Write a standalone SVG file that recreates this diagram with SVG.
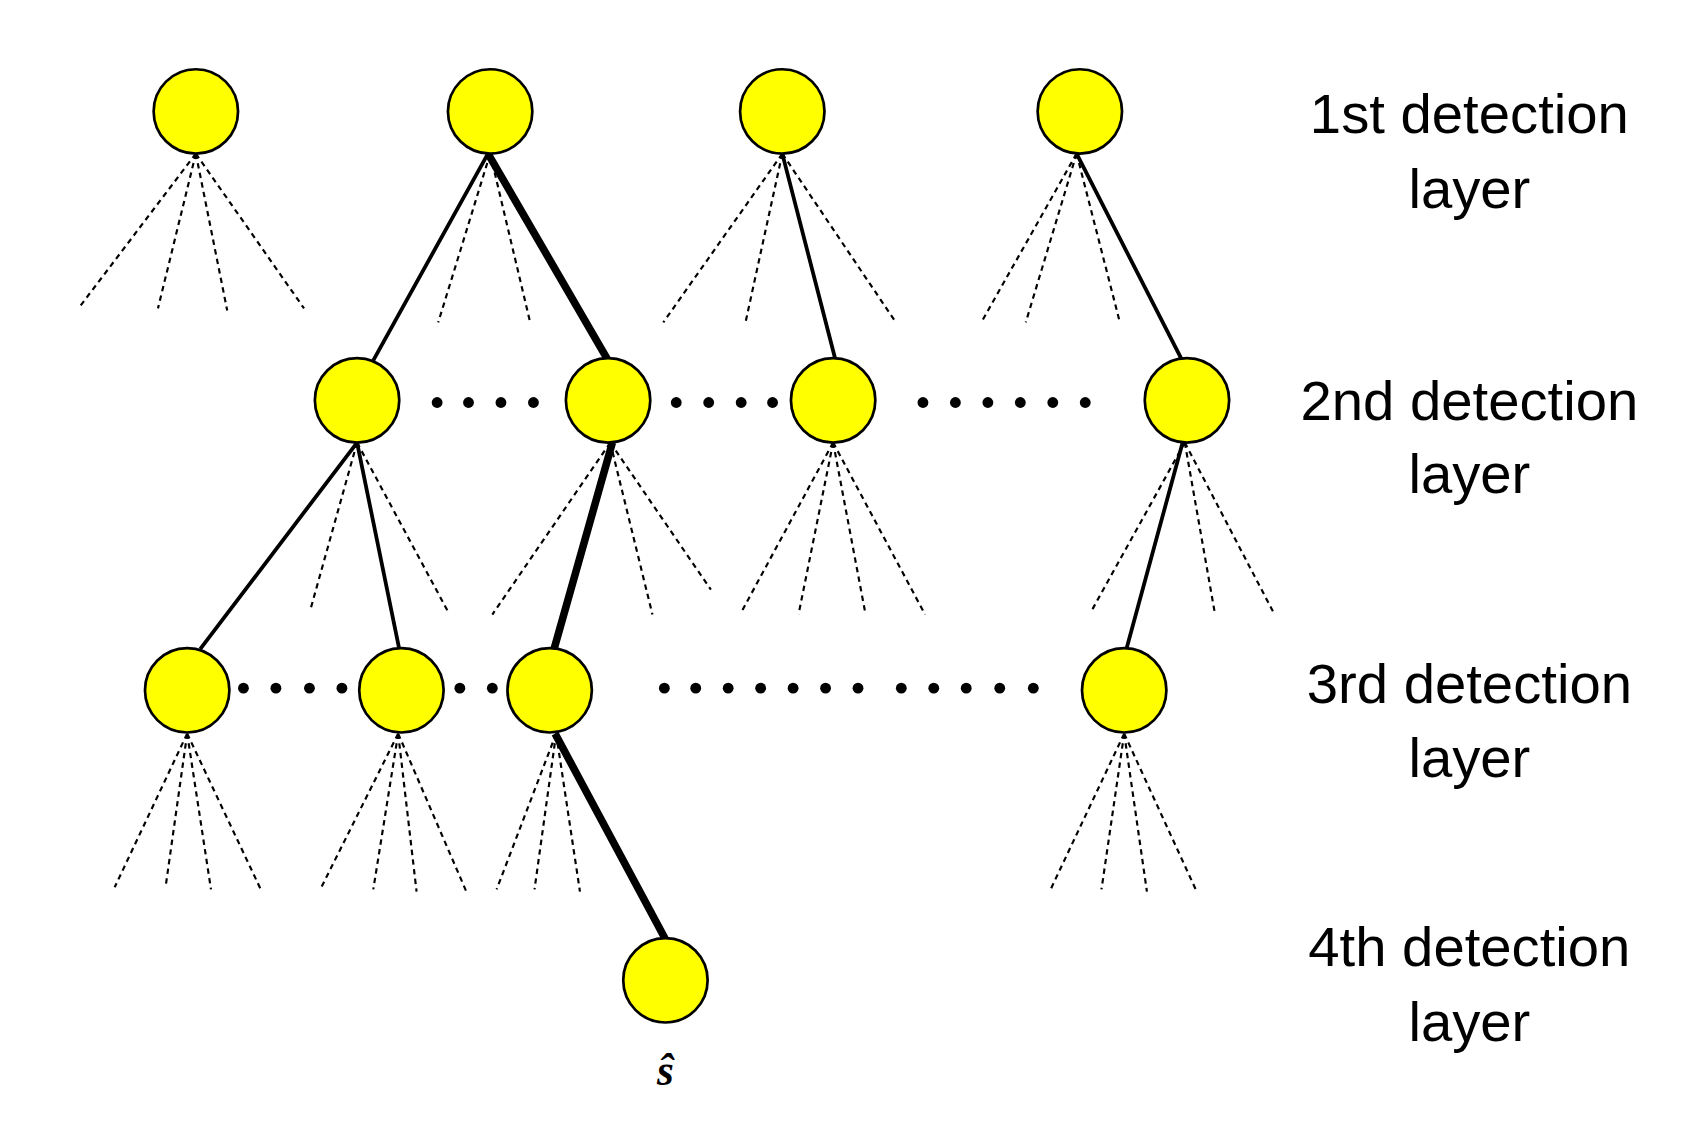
<svg xmlns="http://www.w3.org/2000/svg" width="1688" height="1124" viewBox="0 0 1688 1124">
<style>
.n{fill:#ffff00;stroke:#000;stroke-width:2.5}
.s{stroke:#000;stroke-width:3.5;fill:none}
.t{stroke:#000;stroke-width:7;fill:none}
.d{stroke:#000;stroke-width:2;stroke-dasharray:5,4;fill:none}
.l{font-family:"Liberation Sans",Arial,sans-serif;font-size:52px;text-anchor:middle;fill:#000}
.dot{fill:#000}
</style>
<rect width="1688" height="1124" fill="#fff"/>
<g transform="scale(1.082)">
<g id="connectors">
<path class="d" d="M181,142L74,283M181,142L146,285M181,142L210,287M181,142L281,285"/>
<path class="d" d="M453,142L405,298M453,142L490,298"/>
<path class="d" d="M723,142L613,298M723,142L689,298M723,142L828,298"/>
<path class="d" d="M995,142L908,296M995,142L948,298M995,142L1035,298"/>
<path class="d" d="M330,409L287,563M330,409L415,567"/>
<path class="d" d="M564,409L455,568M564,409L603,568M564,409L657,545"/>
<path class="d" d="M770,409L685,566M770,409L738,568M770,409L800,568M770,409L855,568"/>
<path class="d" d="M1095,409L1008,566M1095,409L1123,568M1095,409L1178,568"/>
<path class="d" d="M173,678L106,820M173,678L153,820M173,678L195,822M173,678L241,822"/>
<path class="d" d="M368,678L296,822M368,678L345,822M368,678L385,824M368,678L431,824"/>
<path class="d" d="M514,678L459,822M514,678L494,822M514,678L536,824"/>
<path class="d" d="M1039,678L971,822M1039,678L1018,822M1039,678L1060,824M1039,678L1106,824"/>
<path class="s" d="M451,142L345,333M723,142L772,332M995,142L1092,332"/>
<path class="s" d="M330,409L185,600M330,409L369,600M1093,409L1041,600"/>
<path class="t" d="M451,142L562,333M566,409L512,600M513,678L615,868"/>
</g>
<g id="dots">
<g class="dot">
<circle cx="404" cy="372" r="5"/><circle cx="433" cy="372" r="5"/><circle cx="463" cy="372" r="5"/><circle cx="493" cy="372" r="5"/>
<circle cx="625" cy="372" r="5"/><circle cx="655" cy="372" r="5"/><circle cx="685" cy="372" r="5"/><circle cx="714" cy="372" r="5"/>
<circle cx="853" cy="372" r="5"/><circle cx="883" cy="372" r="5"/><circle cx="913" cy="372" r="5"/><circle cx="943" cy="372" r="5"/><circle cx="973" cy="372" r="5"/><circle cx="1003" cy="372" r="5"/>
<circle cx="225" cy="636" r="5"/><circle cx="255" cy="636" r="5"/><circle cx="286" cy="636" r="5"/><circle cx="316" cy="636" r="5"/>
<circle cx="425" cy="636" r="5"/><circle cx="455" cy="636" r="5"/>
<circle cx="614" cy="636" r="5"/><circle cx="643" cy="636" r="5"/><circle cx="673" cy="636" r="5"/><circle cx="703" cy="636" r="5"/><circle cx="733" cy="636" r="5"/><circle cx="763" cy="636" r="5"/><circle cx="793" cy="636" r="5"/>
<circle cx="833" cy="636" r="5"/><circle cx="863" cy="636" r="5"/><circle cx="893" cy="636" r="5"/><circle cx="924" cy="636" r="5"/><circle cx="955" cy="636" r="5"/>
</g>
</g>
<g id="n11"><circle class="n" cx="181" cy="103" r="39"/></g>
<g id="n12"><circle class="n" cx="453" cy="103" r="39"/></g>
<g id="n13"><circle class="n" cx="723" cy="103" r="39"/></g>
<g id="n14"><circle class="n" cx="998" cy="103" r="39"/></g>
<g id="n21"><circle class="n" cx="330" cy="370" r="39"/></g>
<g id="n22"><circle class="n" cx="562" cy="370" r="39"/></g>
<g id="n23"><circle class="n" cx="770" cy="370" r="39"/></g>
<g id="n24"><circle class="n" cx="1097" cy="370" r="39"/></g>
<g id="n31"><circle class="n" cx="173" cy="638" r="39"/></g>
<g id="n32"><circle class="n" cx="371" cy="638" r="39"/></g>
<g id="n33"><circle class="n" cx="508" cy="638" r="39"/></g>
<g id="n34"><circle class="n" cx="1039" cy="638" r="39"/></g>
<g id="n41"><circle class="n" cx="615" cy="906" r="39"/>
<text x="615" y="1003" style="font-family:'Liberation Serif','Times New Roman',serif;font-size:40px;font-weight:bold;font-style:italic;text-anchor:middle">ŝ</text></g>
<g id="labels">
<text class="l" x="1358" y="123">1st detection</text><text class="l" x="1358" y="192">layer</text>
<text class="l" x="1358" y="388">2nd detection</text><text class="l" x="1358" y="456">layer</text>
<text class="l" x="1358" y="650">3rd detection</text><text class="l" x="1358" y="718">layer</text>
<text class="l" x="1358" y="893">4th detection</text><text class="l" x="1358" y="962">layer</text>
</g>
</g>
</svg>
